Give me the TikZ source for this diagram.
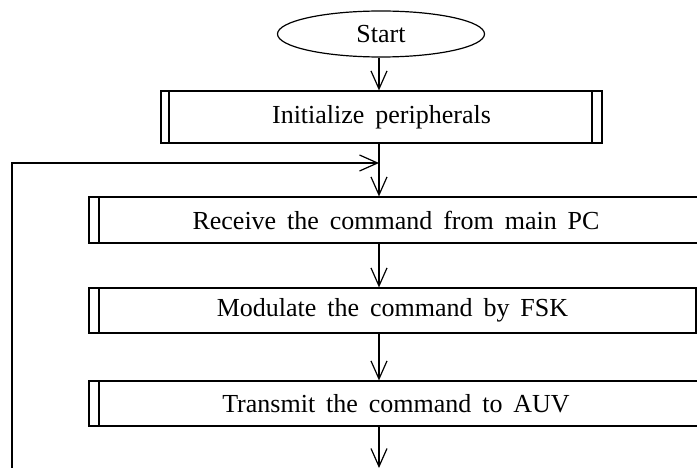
\documentclass[tikz,border=0pt]{standalone}
\usepackage{fontspec}
\setmainfont{Liberation Serif}
\usetikzlibrary{arrows.meta,shapes.geometric}
\newcommand\flowfont{\fontsize{26}{30}\selectfont\spaceskip=.42em\relax}
\tikzset{
  x=1pt, y=-1pt,
  every path/.style={line width=1.2pt},
  terminal/.style={draw, ellipse, inner sep=0pt, minimum width=207pt,
    minimum height=46pt, font=\flowfont},
  procbox/.style={draw, rectangle, inner sep=0pt, font=\flowfont,
    path picture={\draw ([xshift=10pt]path picture bounding box.north west)
      -- ([xshift=10pt]path picture bounding box.south west);}},
  subbox/.style={draw, rectangle, inner sep=0pt, font=\flowfont,
    path picture={
      \draw ([xshift=8pt]path picture bounding box.north west)
        -- ([xshift=8pt]path picture bounding box.south west);
      \draw ([xshift=-10pt]path picture bounding box.north east)
        -- ([xshift=-10pt]path picture bounding box.south east);}},
  arr/.style={-{Straight Barb[length=18pt,width=16pt,line width=1.2pt]}}
}
\begin{document}
\begin{tikzpicture}
  \useasboundingbox (0,0) rectangle (697,468);

  \coordinate (spine) at (379,0);

  \node[terminal] (start) at (381,34) {Start};
  \node[subbox, minimum width=441pt, minimum height=52pt] (init) at (381.5,117) {Initialize peripherals};
  \node[procbox, minimum width=614pt, minimum height=46pt] (recv) at (396,220) {Receive the command from main PC};
  \node[procbox, minimum width=607pt, minimum height=45pt] (modu) at (392.5,310.5) {Modulate the command by FSK};
  \node[procbox, minimum width=614pt, minimum height=45pt] (xmit) at (396,403.5) {Transmit the command to AUV};

  \coordinate (join) at (379,163);
  \coordinate (loopfoot) at (12,472);
  \coordinate (exit) at (379,468);

  \draw[arr] (start.south -| spine) -- (init.north -| spine);
  \draw[arr] (init.south -| spine) -- (recv.north -| spine);
  \draw[arr] (loopfoot) |- (join);
  \draw[arr] (recv.south -| spine) -- (modu.north -| spine);
  \draw[arr] (modu.south -| spine) -- (xmit.north -| spine);
  \draw[arr] (xmit.south -| spine) -- (exit);
\end{tikzpicture}
\end{document}
